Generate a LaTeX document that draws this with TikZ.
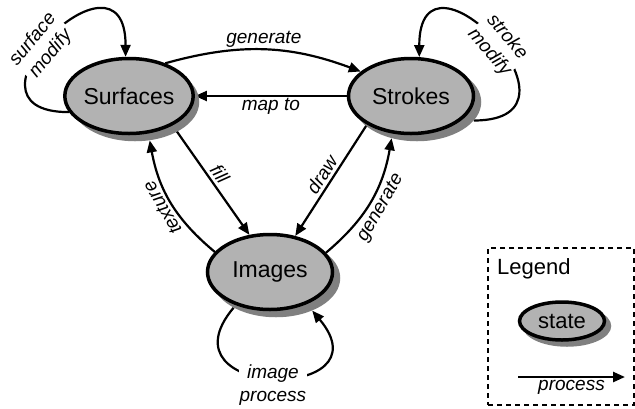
\documentclass[tikz,border=0pt]{standalone}
\usepackage{fontspec}
\setmainfont{Liberation Sans}
\usetikzlibrary{arrows.meta,shapes.geometric,backgrounds}
\begin{document}
\begin{tikzpicture}[x=1pt,y=1pt,
  state/.style={ellipse, draw=black, line width=3.5pt, fill=black!30, minimum width=125pt, minimum height=75pt, inner sep=0pt, font=\fontsize{23}{25}\selectfont},
  shade/.style={ellipse, fill=black!50, minimum width=128.5pt, minimum height=78.5pt, inner sep=0pt},
  arr/.style={line width=2.2pt, -{Triangle[length=12pt,width=10pt]}},
  lbl/.style={font=\fontsize{19}{20}\selectfont\itshape, inner sep=3pt},
  loopl/.style={font=\fontsize{19}{23}\selectfont\itshape, fill=white, align=center, inner sep=1pt}
]
\useasboundingbox (0,0) rectangle (635,-408);
% shadows
\node[shade] (Sus) at (135,-102) {};
\node[shade] (Sts) at (417,-102) {};
\node[shade] (Ims) at (276,-278) {};
% states
\node[state] (Su) at (129,-96) {Surfaces};
\node[state] (St) at (411,-96) {Strokes};
\node[state] (Im) at (270,-272) {Images};
% connectors
\begin{pgfonlayer}{background}
\draw[arr] (Su.42) to[bend left=18] node[lbl, above, inner sep=1pt] {generate} (St.154);
\draw[arr] (St.180) -- node[lbl, below, inner sep=1pt] {map to} (Su.0);
\draw[arr] (Su.-34) -- node[lbl, sloped, above] {fill} (Im.119);
\draw[arr] (St.213) -- node[lbl, sloped, above] {draw} (Im.55);
\draw[arr] (Im.160) to[bend left=20] node[lbl, sloped, above, allow upside down] {texture} (Sus.-69);
\draw[arr] (Im.19) to[bend right=20] node[lbl, sloped, below] {generate} (Sts.-125);
\draw[arr] (Su.195) .. controls +(180:125) and +(90:125) .. (Su.95) node[loopl, sloped, pos=0.45] {surface\\modify};
\draw[arr] (Sts.-18) .. controls +(0:128) and +(90:128) .. (St.78) node[loopl, sloped, pos=0.48] {stroke\\modify};
\draw[arr] (Ims.-145) .. controls +(-130:120) and +(-50:120) .. (Ims.-42) node[loopl, pos=0.5, yshift=-7pt] {image\\process};
\end{pgfonlayer}
% legend
\node[draw, line width=1.5pt, dash pattern=on 5pt off 4pt, minimum width=146pt, minimum height=157pt, inner sep=0pt] (Lg) at (561,-326.5) {};
\node[font=\fontsize{22}{24}\selectfont, anchor=base west, inner sep=0pt] (Lt) at (497,-274) {Legend};
\node[shade, minimum width=88.5pt, minimum height=41.5pt] (Lss) at (567,-326) {};
\node[state, minimum width=85pt, minimum height=38pt, font=\fontsize{22}{24}\selectfont] (Ls) at (562,-321) {state};
\coordinate (pa) at (518,-377);
\coordinate (pb) at (625,-377);
\draw[arr, line width=2.5pt] (pa) -- node[lbl, below, inner sep=2pt] {process} (pb);
\end{tikzpicture}
\end{document}
